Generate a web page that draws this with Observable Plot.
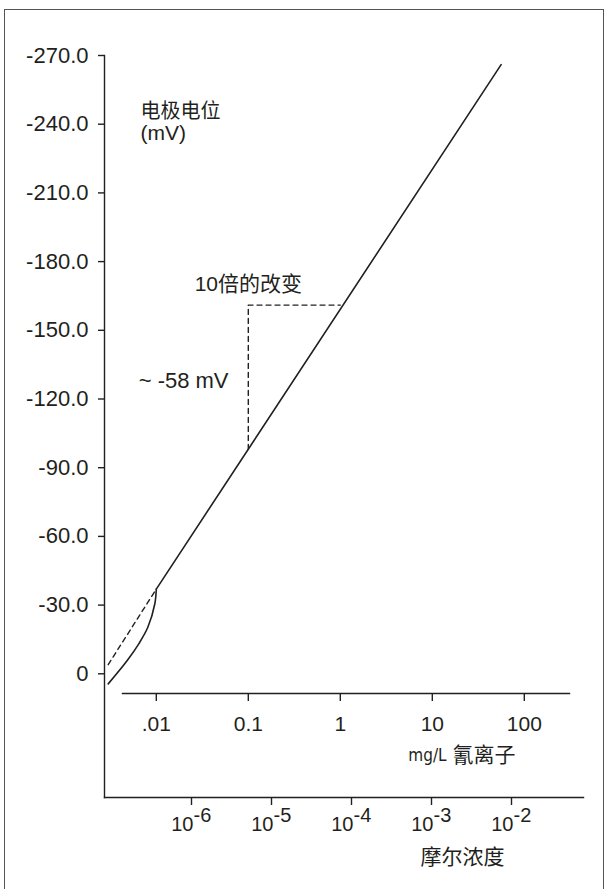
<!DOCTYPE html>
<html>
<head>
<meta charset="utf-8">
<script src="https://cdn.jsdelivr.net/npm/d3@7"></script>
<script src="https://cdn.jsdelivr.net/npm/@observablehq/plot@0.6"></script>
<style>
  body { margin: 0; background: #fff; }
  #wrap { position: relative; width: 607px; height: 889px; overflow: hidden; background: #fff; }
  #wrap svg { position: absolute; left: 0; top: 0; }
  #border { position: absolute; left: 4px; top: 9px; width: 600px; height: 900px; border: 1.5px solid #555; box-sizing: border-box; }
</style>
</head>
<body>
<div id="wrap"><div id="border"></div></div>
<script>
// ---- data ----
const mgTicks = [0.01, 0.1, 1, 10, 100];
const mgLabels = [".01", "0.1", "1", "10", "100"];
const molarTicks = [1e-6, 1e-5, 1e-4, 1e-3, 1e-2];
const molarExps = ["-6", "-5", "-4", "-3", "-2"];
const yTicks = [-270, -240, -210, -180, -150, -120, -90, -60, -30, 0];
const yLabels = ["-270.0", "-240.0", "-210.0", "-180.0", "-150.0", "-120.0", "-90.0", "-60.0", "-30.0", "0"];
// electrode response (mg/L CN-, mV)
const lineConc = [0.01, 56];
const lineMv = [-37, -266];
const curveConc = [0.0030, 0.00483, 0.00645, 0.00809, 0.00964, 0.01];
const curveMv = [4.4, -5.8, -13.1, -20.3, -30.6, -37];
const extConc = [0.0030, 0.01];
const extMv = [-4, -37];
const triConc = [0.1, 0.1, 1];
const triMv = [-98, -161, -161];

const ink = "#231f20";
const latin = "'Liberation Sans', Arial, 'Noto Sans CJK SC', sans-serif";
const W = 607, H = 889;
const xMg = {type: "log", domain: [0.01, 100], range: [155.8, 523.8]};
const yMv = {domain: [0, -270], range: [673.3, 55]};

const line = lineConc.map((c, i) => ({c, v: lineMv[i]}));
const curve = curveConc.map((c, i) => ({c, v: curveMv[i]}));
const ext = extConc.map((c, i) => ({c, v: extMv[i]}));
const tri = triConc.map((c, i) => ({c, v: triMv[i]}));

// main plot: y axis, L-shaped axis lines, response curve, annotations
const main = Plot.plot({
  width: W, height: H,
  marginTop: 55, marginBottom: 92, marginLeft: 104, marginRight: 24,
  style: {background: "transparent", fontFamily: latin, color: ink, overflow: "visible"},
  x: {...xMg, axis: null},
  y: {...yMv, axis: null},
  marks: [
    Plot.frame({anchor: "left", stroke: ink, strokeWidth: 1.4}),
    Plot.frame({anchor: "bottom", stroke: ink, strokeWidth: 1.4}),
    Plot.axisY({ticks: yTicks, tickFormat: d => yLabels[yTicks.indexOf(d)], tickSize: 6, tickPadding: 10,
      fontSize: 22, label: null, stroke: ink, color: ink, strokeWidth: 1.4}),
    Plot.line(line, {x: "c", y: "v", stroke: ink, strokeWidth: 1.6}),
    Plot.line(curve, {x: "c", y: "v", stroke: ink, strokeWidth: 1.6, curve: "catmull-rom"}),
    Plot.line(ext, {x: "c", y: "v", stroke: ink, strokeWidth: 1.4, strokeDasharray: "5,4"}),
    Plot.line(tri, {x: "c", y: "v", stroke: ink, strokeWidth: 1.4, strokeDasharray: "5,4"}),
    Plot.text(["电极电位"], {x: 0.00673, y: -245.5, textAnchor: "start", fontSize: 20, fill: ink}),
    Plot.text(["(mV)"], {x: 0.00673, y: -236, textAnchor: "start", fontSize: 21, fill: ink}),
    Plot.text(["10倍的改变"], {x: 0.1, y: -170.3, textAnchor: "middle", fontSize: 21, fill: ink}),
    Plot.text(["~ -58 mV"], {x: 0.061, y: -128, textAnchor: "end", fontSize: 22, fill: ink}),
    Plot.text(["mg/L"], {x: 14.3, y: 35.7, textAnchor: "end", fontSize: 17, fill: ink,
      fontFamily: "'DejaVu Sans Condensed', 'Liberation Sans Narrow', 'Noto Sans CJK SC', sans-serif"}),
    Plot.text(["氰离子"], {x: 16.6, y: 35.7, textAnchor: "start", fontSize: 21, fill: ink,
      fontFamily: "'Noto Sans CJK SC', sans-serif"}),
    Plot.text(["摩尔浓度"], {x: 21.3, y: 80, textAnchor: "middle", fontSize: 21, fill: ink,
      fontFamily: "'Noto Sans CJK SC', sans-serif"})
  ]
});

// upper concentration axis (mg/L), drawn inside the frame
const upper = Plot.plot({
  width: W, height: H,
  marginTop: 55, marginBottom: 196, marginLeft: 122, marginRight: 38,
  style: {background: "transparent", fontFamily: latin, color: ink, overflow: "visible"},
  x: {...xMg, axis: null},
  y: {axis: null},
  marks: [
    Plot.frame({anchor: "bottom", stroke: ink, strokeWidth: 1.4}),
    Plot.axisX({ticks: mgTicks, tickFormat: d => mgLabels[mgTicks.indexOf(d)], anchor: "bottom",
      tickSize: 8, tickPadding: 15, fontSize: 21, label: null, stroke: ink, color: ink, strokeWidth: 1.4})
  ]
});

// lower molar axis
const lower = Plot.plot({
  width: W, height: H,
  marginTop: 55, marginBottom: 92, marginLeft: 104, marginRight: 24,
  style: {background: "transparent", fontFamily: latin, color: ink, overflow: "visible"},
  x: {type: "log", domain: [1e-6, 1e-2], range: [191, 511], axis: null},
  y: {axis: null},
  marks: [
    Plot.axisX({ticks: molarTicks, tickFormat: () => "", anchor: "bottom", tickSize: 8, label: null,
      stroke: ink, strokeWidth: 1.4}),
    Plot.text(molarTicks, {x: d => d, text: () => "10", frameAnchor: "bottom", dy: 33, dx: 2,
      textAnchor: "end", fontSize: 20, fill: ink}),
    Plot.text(molarTicks, {x: d => d, text: (d, i) => molarExps[i], frameAnchor: "bottom", dy: 24, dx: 2,
      textAnchor: "start", fontSize: 20, fill: ink})
  ]
});

const wrap = document.getElementById("wrap");
wrap.appendChild(main);
wrap.appendChild(upper);
wrap.appendChild(lower);
</script>
</body>
</html>
